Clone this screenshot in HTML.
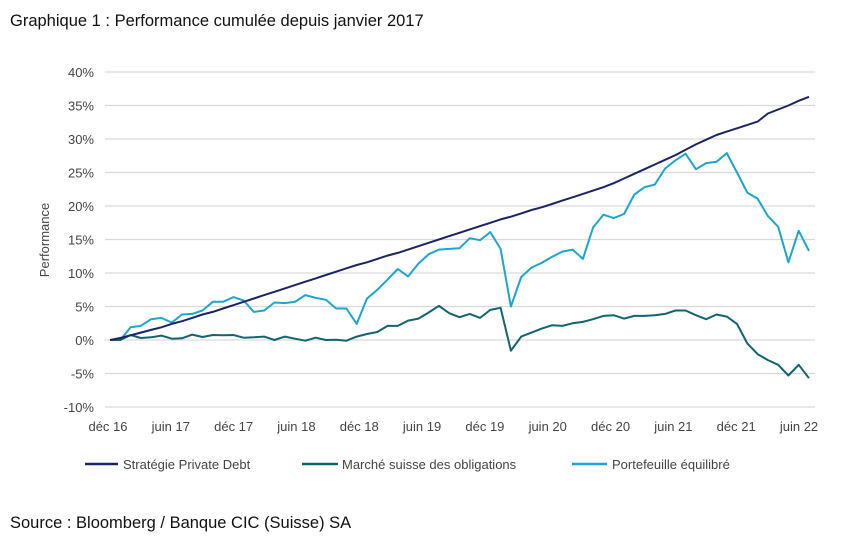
<!DOCTYPE html>
<html><head><meta charset="utf-8"><style>
body{margin:0;background:#fff;}
svg text{font-family:"Liberation Sans",Arial,sans-serif;}
</style></head><body>
<svg id="chart" width="850" height="548" viewBox="0 0 850 548" xmlns="http://www.w3.org/2000/svg">
<rect width="850" height="548" fill="#fff"/>
<text x="10" y="26" font-size="16.5" fill="#111">Graphique 1 : Performance cumulée depuis janvier 2017</text>
<text transform="translate(49,240) rotate(-90)" text-anchor="middle" font-size="13" fill="#444">Performance</text>
<g id="grid"></g><g id="series"></g><g id="xlabels"></g>
<g font-size="13" fill="#444">
<line x1="85" y1="464" x2="118" y2="464" stroke="#1b2466" stroke-width="2.5"/>
<text x="123" y="469">Stratégie Private Debt</text>
<line x1="302" y1="464" x2="338" y2="464" stroke="#116470" stroke-width="2.5"/>
<text x="342" y="469">Marché suisse des obligations</text>
<line x1="572" y1="464" x2="607" y2="464" stroke="#1ea5cc" stroke-width="2.5"/>
<text x="612" y="469">Portefeuille équilibré</text>
</g>
<text x="10" y="528" font-size="16.5" fill="#111">Source : Bloomberg / Banque CIC (Suisse) SA</text>
</svg>
<script>
const yTicks=[40,35,30,25,20,15,10,5,0,-5,-10];
const xLabels=["déc 16","juin 17","déc 17","juin 18","déc 18","juin 19","déc 19","juin 20","déc 20","juin 21","déc 21","juin 22"];
const xLabelIdx=[0,6,12,18,24,30,36,42,48,54,60,66];
const privateDebt=[0,0.3,0.7,1.1,1.5,1.9,2.4,2.8,3.3,3.8,4.2,4.7,5.2,5.7,6.2,6.7,7.2,7.7,8.2,8.7,9.2,9.7,10.2,10.7,11.2,11.6,12.1,12.6,13.0,13.5,14.0,14.5,15.0,15.5,16.0,16.5,17.0,17.5,18.0,18.4,18.9,19.4,19.8,20.3,20.8,21.3,21.8,22.3,22.8,23.4,24.1,24.8,25.5,26.2,26.9,27.6,28.4,29.2,29.9,30.6,31.1,31.6,32.1,32.6,33.8,34.4,35.0,35.7,36.3];
const marcheSuisse=[0,0,0.75,0.3,0.4,0.65,0.2,0.25,0.8,0.45,0.75,0.7,0.75,0.35,0.4,0.5,0,0.5,0.2,-0.1,0.35,0,0.05,-0.1,0.5,0.9,1.2,2.1,2.1,2.9,3.2,4.1,5.1,4.0,3.4,3.9,3.3,4.5,4.8,-1.6,0.5,1.1,1.7,2.2,2.1,2.5,2.7,3.1,3.6,3.7,3.2,3.6,3.6,3.7,3.9,4.4,4.4,3.7,3.1,3.8,3.5,2.4,-0.5,-2.1,-3.0,-3.7,-5.3,-3.7,-5.7];
const portefeuille=[0,0,1.9,2.1,3.1,3.3,2.6,3.8,3.9,4.4,5.7,5.7,6.4,5.9,4.2,4.4,5.6,5.5,5.7,6.7,6.3,6.0,4.7,4.7,2.4,6.2,7.5,9.0,10.6,9.5,11.4,12.8,13.5,13.6,13.7,15.2,14.9,16.1,13.6,5.0,9.4,10.8,11.5,12.4,13.2,13.5,12.1,16.8,18.7,18.2,18.8,21.7,22.8,23.2,25.6,26.8,27.8,25.5,26.4,26.6,27.9,25.0,22.0,21.1,18.5,16.9,11.6,16.3,13.3];
const NS="http://www.w3.org/2000/svg";
const y=v=>340-v*6.7;
const x=i=>110+i*(809-110)/(privateDebt.length-1);
const xl=i=>108+i*(799-108)/66;
const grid=document.getElementById('grid');
yTicks.forEach(t=>{
  const l=document.createElementNS(NS,'line');
  l.setAttribute('x1',105);l.setAttribute('x2',815);l.setAttribute('y1',y(t));l.setAttribute('y2',y(t));
  l.setAttribute('stroke','#d9d9d9');l.setAttribute('stroke-width','1.3');
  
  
  grid.appendChild(l);
  const tx=document.createElementNS(NS,'text');
  tx.setAttribute('x',94);tx.setAttribute('y',y(t)+5);tx.setAttribute('text-anchor','end');
  tx.setAttribute('font-size','13');tx.setAttribute('fill','#444');
  tx.textContent=t+'%';
  
  
  grid.appendChild(tx);
});
const xg=document.getElementById('xlabels');
xLabels.forEach((s,k)=>{
  const tx=document.createElementNS(NS,'text');
  tx.setAttribute('x',xl(xLabelIdx[k]));tx.setAttribute('y',431);tx.setAttribute('text-anchor','middle');
  tx.setAttribute('font-size','13');tx.setAttribute('fill','#444');
  tx.textContent=s;
  
  
  xg.appendChild(tx);
});
const sg=document.getElementById('series');
[[portefeuille,'#1ea5cc','line-portefeuille-equilibre'],[marcheSuisse,'#116470','line-marche-suisse'],[privateDebt,'#1b2466','line-private-debt']].forEach(([d,c,n])=>{
  const p=document.createElementNS(NS,'polyline');
  p.setAttribute('points',d.map((v,i)=>x(i).toFixed(1)+','+y(v).toFixed(1)).join(' '));
  p.setAttribute('fill','none');p.setAttribute('stroke',c);p.setAttribute('stroke-width','2');p.setAttribute('stroke-linejoin','round');
  
  
  sg.appendChild(p);
});
</script>
</body></html>
